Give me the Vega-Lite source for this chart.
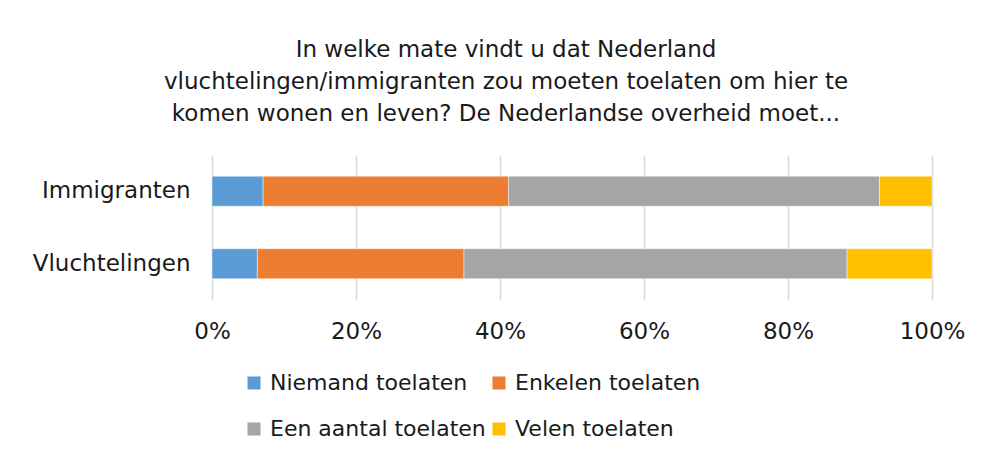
{
  "$schema": "https://vega.github.io/schema/vega-lite/v6.json",
  "autosize": "none",
  "width": 720,
  "height": 145,
  "padding": {"left": 212, "top": 155, "right": 52, "bottom": 158},
  "background": "white",
  "title": {
    "text": ["In welke mate vindt u dat Nederland", "vluchtelingen/immigranten zou moeten toelaten om hier te", "komen wonen en leven? De Nederlandse overheid moet..."],
    "font": "DejaVu Sans",
    "fontSize": 23,
    "fontWeight": "normal",
    "color": "#1a1a1a",
    "lineHeight": 32,
    "anchor": "middle",
    "dx": -66,
    "offset": 29
  },
  "data": {
    "values": [
      {"groep": "Immigranten", "antwoord": "Niemand toelaten", "volgorde": 1, "pct": 7.1},
      {"groep": "Immigranten", "antwoord": "Enkelen toelaten", "volgorde": 2, "pct": 34.1},
      {"groep": "Immigranten", "antwoord": "Een aantal toelaten", "volgorde": 3, "pct": 51.5},
      {"groep": "Immigranten", "antwoord": "Velen toelaten", "volgorde": 4, "pct": 7.3},
      {"groep": "Vluchtelingen", "antwoord": "Niemand toelaten", "volgorde": 1, "pct": 6.3},
      {"groep": "Vluchtelingen", "antwoord": "Enkelen toelaten", "volgorde": 2, "pct": 28.7},
      {"groep": "Vluchtelingen", "antwoord": "Een aantal toelaten", "volgorde": 3, "pct": 53.2},
      {"groep": "Vluchtelingen", "antwoord": "Velen toelaten", "volgorde": 4, "pct": 11.8}
    ]
  },
  "mark": {"type": "bar", "height": 30, "stroke": "#ffffff", "strokeWidth": 0.75, "strokeOpacity": 0.6},
  "encoding": {
    "y": {
      "field": "groep",
      "type": "nominal",
      "sort": ["Immigranten", "Vluchtelingen"],
      "title": null,
      "scale": {"paddingInner": 0, "paddingOuter": 0},
      "axis": {"domain": false, "ticks": false, "grid": false, "labelFont": "DejaVu Sans", "labelFontSize": 23, "labelColor": "#1a1a1a", "labelPadding": 22}
    },
    "x": {
      "field": "pct",
      "type": "quantitative",
      "stack": "zero",
      "title": null,
      "scale": {"domain": [0, 100], "nice": false},
      "axis": {"values": [0, 20, 40, 60, 80, 100], "labelExpr": "datum.value + '%'", "domain": false, "ticks": false, "grid": true, "gridColor": "#d9d9d9", "gridWidth": 1.5, "labelFont": "DejaVu Sans", "labelFontSize": 23, "labelColor": "#1a1a1a", "labelPadding": 20, "labelFlush": false}
    },
    "color": {
      "field": "antwoord",
      "type": "nominal",
      "sort": ["Niemand toelaten", "Enkelen toelaten", "Een aantal toelaten", "Velen toelaten"],
      "scale": {"domain": ["Niemand toelaten", "Enkelen toelaten", "Een aantal toelaten", "Velen toelaten"], "range": ["#5b9bd5", "#ed7d31", "#a5a5a5", "#ffc000"]},
      "legend": {
        "title": null,
        "orient": "none",
        "direction": "horizontal",
        "legendX": 31,
        "legendY": 217,
        "padding": 0,
        "columns": 2,
        "columnPadding": 2,
        "rowPadding": 24,
        "symbolType": "square",
        "symbolSize": 169,
        "symbolStrokeWidth": 0,
        "labelFont": "DejaVu Sans",
        "labelFontSize": 22,
        "labelColor": "#1a1a1a",
        "labelOffset": 5,
        "labelLimit": 500
      }
    },
    "order": {"field": "volgorde", "type": "quantitative"}
  },
  "config": {"view": {"stroke": null}}
}
